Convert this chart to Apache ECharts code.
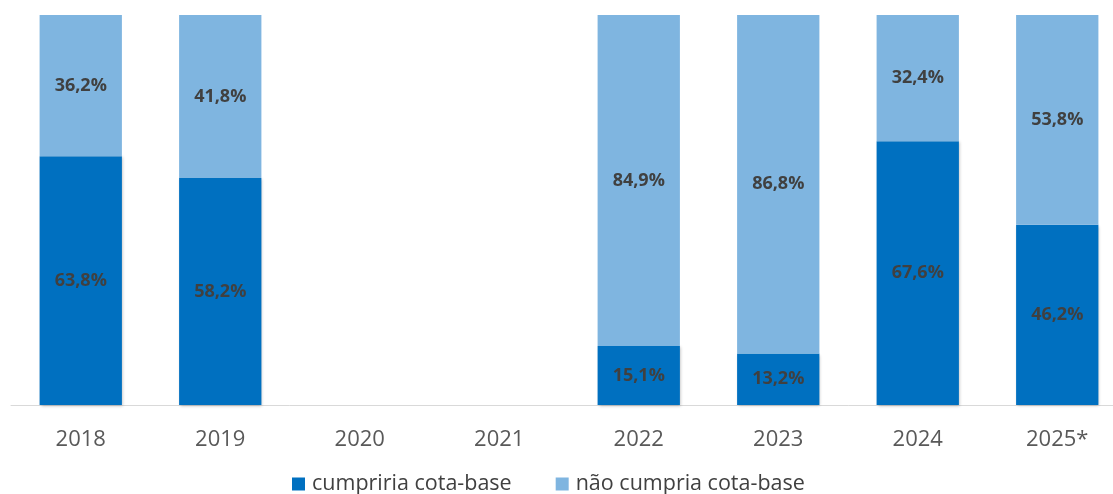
<!DOCTYPE html>
<html><head><meta charset="utf-8">
<script src="https://cdn.jsdelivr.net/npm/echarts@6/dist/echarts.min.js"></script>
<style>html,body{margin:0;padding:0;background:#fff;overflow:hidden;width:1113px;height:494px}#c{width:1127px;height:494px}</style>
</head><body><div id="c"></div>
<script>
const categories = ['2018','2019','2020','2021','2022','2023','2024','2025*'];
const cumpriria = [63.8, 58.2, null, null, 15.1, 13.2, 67.6, 46.2];
const naoCumpria = [36.2, 41.8, null, null, 84.9, 86.8, 32.4, 53.8];
const seriesNames = ['cumpriria cota-base', 'não cumpria cota-base'];

const fmt = p => p.value == null ? '' : p.value.toFixed(1).replace('.', ',') + '%';
const chart = echarts.init(document.getElementById('c'));
const lbl = {show:true, position:'inside', formatter: fmt, color:'#404040', fontSize:18, fontWeight:'bold', fontFamily:'Open Sans'};
chart.setOption({
  animation:false,
  grid:{left:11, right:0, top:15, bottom:89},
  legend:{top:473, left:292, padding:0, itemWidth:13, itemHeight:13, itemGap:44, icon:'rect',
    textStyle:{fontSize:21.5, color:'#404040', fontFamily:'Open Sans', padding:[0,0,0,2]}, data: seriesNames},
  xAxis:{type:'category', data:categories, axisTick:{show:false},
    axisLine:{lineStyle:{color:'#d9d9d9', width:1}},
    axisLabel:{fontSize:22, color:'#595959', fontFamily:'Open Sans', margin:24}},
  yAxis:{type:'value', min:0, max:100, show:false, splitLine:{show:false}},
  series:[
    {name:seriesNames[0], type:'bar', stack:'s', data:cumpriria, barWidth:'59%',
     itemStyle:{color:'#0070C0', shadowColor:'rgba(0,0,0,0.25)', shadowBlur:3, shadowOffsetX:1, shadowOffsetY:1}, label:lbl},
    {name:seriesNames[1], type:'bar', stack:'s', data:naoCumpria, barWidth:'59%',
     itemStyle:{color:'#7FB5E0'}, label:lbl}
  ]
});
</script></body></html>
